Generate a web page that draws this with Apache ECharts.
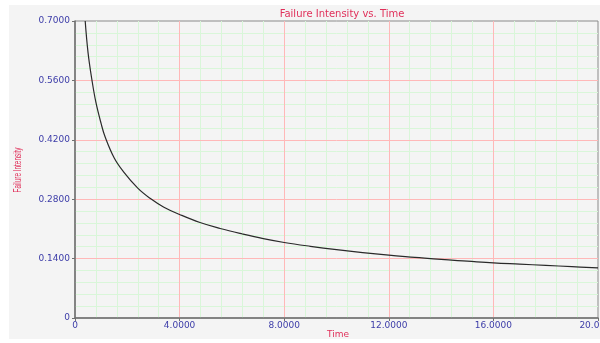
<!DOCTYPE html>
<html>
<head>
<meta charset="utf-8">
<script src="https://cdn.jsdelivr.net/npm/echarts@6/dist/echarts.min.js"></script>
<style>
html,body{margin:0;padding:0;background:#ffffff;}
#c{width:600px;height:343px;}
</style>
</head>
<body>
<div id="c"></div>
<script>
// Values
var times = [0.39, 0.5, 0.65, 0.8, 1.0, 1.15, 1.5, 1.85, 2.4, 2.87, 3.4, 4.0, 4.78, 5.55, 6.4, 7.2, 8.0, 9.0, 10.0, 11.0, 12.0, 13.0, 14.0, 15.0, 16.0, 17.0, 18.0, 19.0, 20.0];
var intensity = [0.700, 0.625, 0.560, 0.508, 0.458, 0.427, 0.377, 0.345, 0.306, 0.282, 0.261, 0.244, 0.225, 0.211, 0.198, 0.187, 0.178, 0.169, 0.161, 0.154, 0.148, 0.143, 0.138, 0.134, 0.130, 0.127, 0.124, 0.121, 0.118];
var xTicks = [0, 4, 8, 12, 16, 20];
var yTicks = [0, 0.14, 0.28, 0.42, 0.56, 0.70];

var chartTitle = 'Failure Intensity vs. Time';
var xName = 'Time';
var yName = 'Failure Intensity';

var pts = times.map(function (t, i) { return [t, intensity[i]]; });
function fmt(v) { return v === 0 ? '0' : v.toFixed(4); }

var xMin = xTicks[0], xMax = xTicks[xTicks.length - 1];
var yMin = yTicks[0], yMax = yTicks[yTicks.length - 1];
var hidden = {axisLine: {show: false}, axisTick: {show: false}, axisLabel: {show: false}};

function layer(base, extra) {
  var o = {};
  for (var k in base) o[k] = base[k];
  for (var k2 in extra) o[k2] = extra[k2];
  return o;
}

var xBase = {type: 'value', min: xMin, max: xMax, interval: 4, gridIndex: 0, position: 'bottom', offset: 0};
var yBase = {type: 'value', min: yMin, max: yMax, interval: 0.14, gridIndex: 0, position: 'left', offset: 0};
var majorLine = {show: true, showMinLine: false, showMaxLine: false, lineStyle: {color: '#ffb8b8', width: 1}};
var minorLine = {show: true, lineStyle: {color: '#d9f6d9', width: 1}};

var xAxes = [
  layer(xBase, layer(hidden, {z: 0, splitLine: {show: false}, minorTick: {show: false, splitNumber: 5}, minorSplitLine: minorLine})),
  layer(xBase, layer(hidden, {z: 1, splitLine: majorLine})),
  layer(xBase, {
    z: 3,
    axisLine: {show: true, onZero: false, lineStyle: {color: '#707070', width: 1.5}},
    axisTick: {show: true, length: 3, lineStyle: {color: '#707070'}},
    axisLabel: {formatter: fmt, fontFamily: 'DejaVu Sans', fontSize: 9, color: '#3c3ca8', margin: 3, showMaxLabel: true, hideOverlap: false},
    splitLine: {show: false}
  })
];
var yAxes = [
  layer(yBase, layer(hidden, {z: 0, splitLine: {show: false}, minorTick: {show: false, splitNumber: 5}, minorSplitLine: minorLine})),
  layer(yBase, layer(hidden, {z: 1, splitLine: majorLine})),
  layer(yBase, {
    z: 3,
    axisLine: {show: true, onZero: false, lineStyle: {color: '#707070', width: 1.5}},
    axisTick: {show: true, length: 3, lineStyle: {color: '#707070'}},
    axisLabel: {formatter: fmt, fontFamily: 'DejaVu Sans', fontSize: 9, color: '#3c3ca8', margin: 5},
    splitLine: {show: false}
  })
];

var chart = echarts.init(document.getElementById('c'), null, {renderer: 'canvas'});
chart.setOption({
  animation: false,
  backgroundColor: '#ffffff',
  graphic: [{
    type: 'rect', z: -10, silent: true,
    shape: {x: 9, y: 5, width: 591, height: 334},
    style: {fill: '#f4f4f4'}
  }, {
    type: 'text', silent: true, x: 18, y: 170, rotation: Math.PI / 2, scaleX: 0.58,
    style: {text: yName, font: '11px "Liberation Sans"', fill: '#e0305a', align: 'center', verticalAlign: 'middle'}
  }, {
    type: 'text', silent: true, x: 338, y: 335,
    style: {text: xName, font: '9px "DejaVu Sans"', fill: '#e0305a', align: 'center', verticalAlign: 'middle'}
  }],
  title: {
    text: chartTitle, left: 337, top: 4, textAlign: 'center',
    textStyle: {fontFamily: 'DejaVu Sans', fontSize: 10, fontWeight: 'normal', color: '#e0305a'}
  },
  grid: {left: 75, right: 2, top: 21, bottom: 25, containLabel: false, outerBoundsMode: 'none',
    show: true, borderColor: '#8a8a8a', borderWidth: 1, backgroundColor: 'transparent'},
  xAxis: xAxes,
  yAxis: yAxes,
  series: [{
    type: 'line', data: pts, smooth: 0.4, showSymbol: false, clip: true,
    xAxisIndex: 2, yAxisIndex: 2, z: 4,
    lineStyle: {color: '#2a2a2a', width: 1.2}
  }]
});
</script>
</body>
</html>
